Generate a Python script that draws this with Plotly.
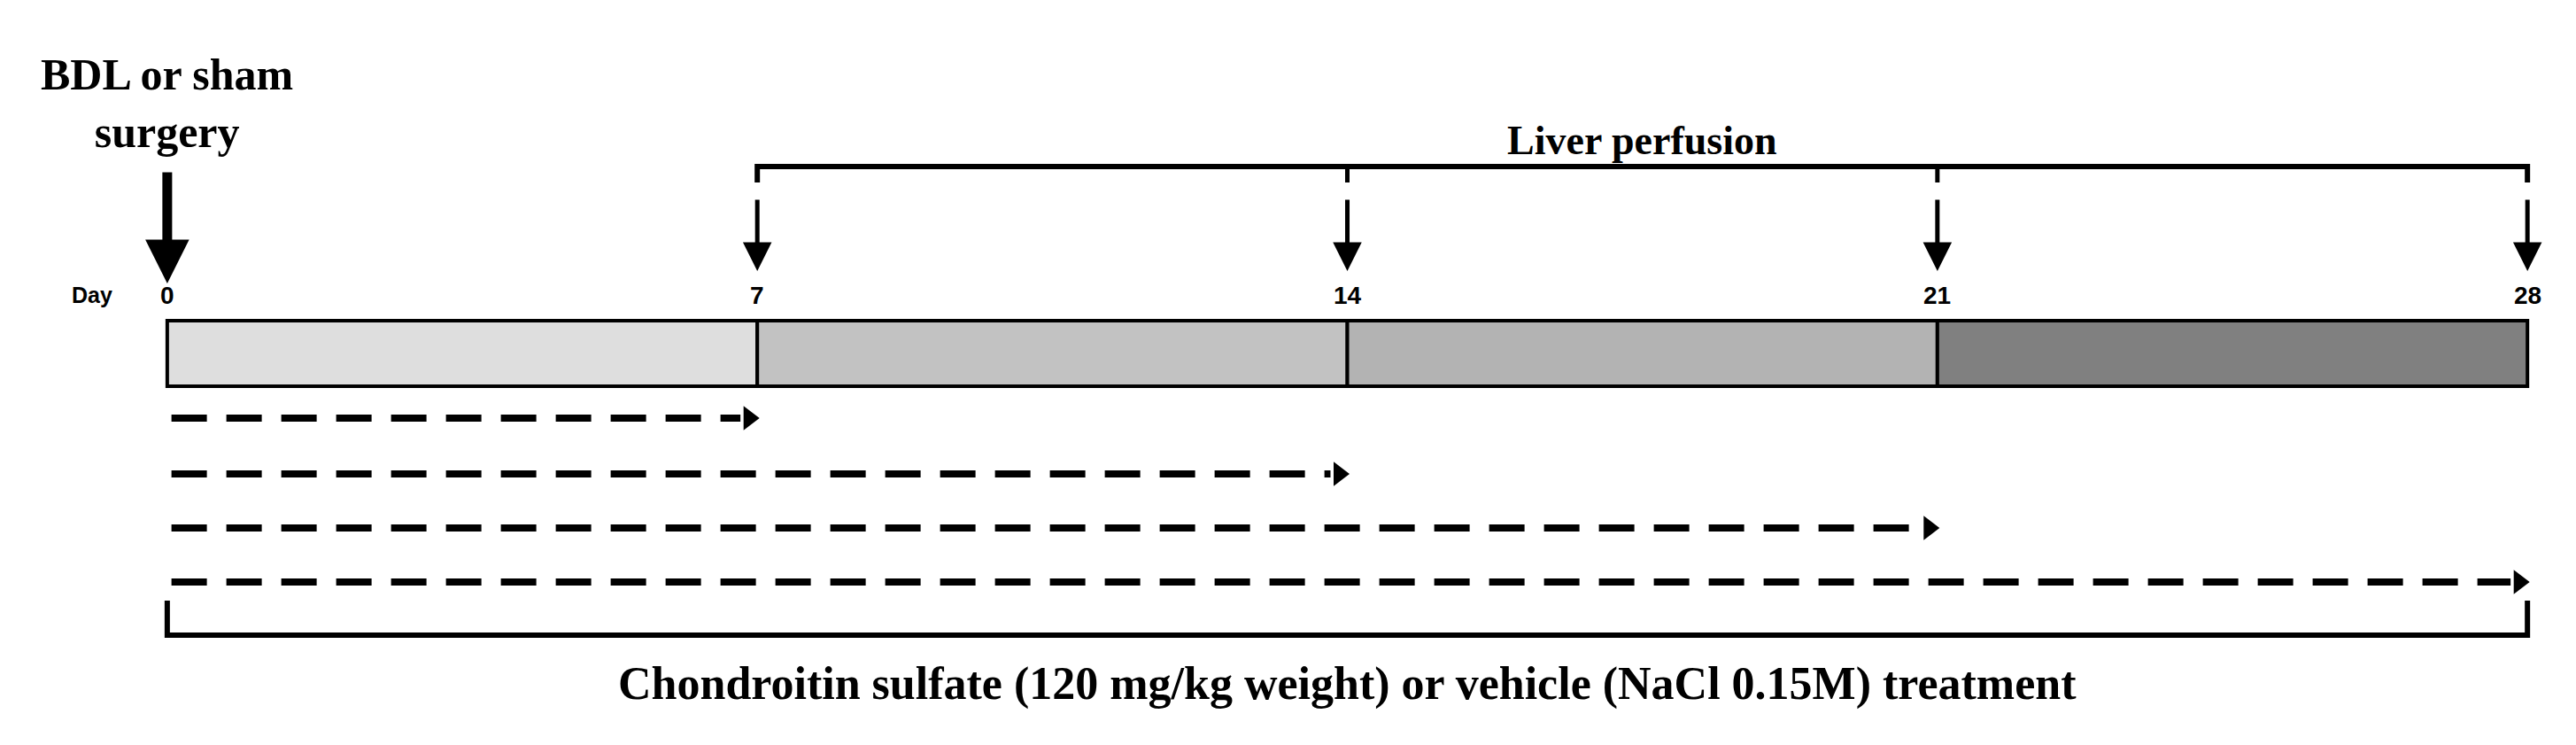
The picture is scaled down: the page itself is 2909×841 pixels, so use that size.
import plotly.graph_objects as go

days = [0, 7, 14, 21, 28]
day_labels = ["0", "7", "14", "21", "28"]
segment_colors = ["#dedede", "#c2c2c2", "#b3b3b3", "#808080"]
perfusion_days = [7, 14, 21, 28]
treatment_ends = [7, 14, 21, 28]
title_top = "BDL or sham<br>surgery"
title_perf = "Liver perfusion"
title_bottom = "Chondroitin sulfate (120 mg/kg weight) or vehicle (NaCl 0.15M) treatment"

# layout rows (vertical positions, pixel-like units)
BAR_TOP, BAR_BOT = 354, 428
DASH_ROWS = [464, 527, 588, 649]
BR_TOP, BR_TOP_END = 180, 198
BR_BOT, BR_BOT_END = 709, 670

fig = go.Figure()
serif = "Liberation Serif"

for i in range(4):
    fig.add_shape(type="rect", x0=days[i], x1=days[i + 1], y0=BAR_TOP, y1=BAR_BOT,
                  fillcolor=segment_colors[i], line=dict(color="black", width=4))

for d, lab in zip(days, day_labels):
    fig.add_annotation(x=d, y=325, text=f"<b>{lab}</b>", showarrow=False,
                       font=dict(family="Liberation Sans", size=28, color="black"))
fig.add_annotation(x=0, y=325, xshift=-85, text="<b>Day</b>", showarrow=False,
                   font=dict(family="Liberation Sans", size=25, color="black"))

# big surgery arrow
fig.add_annotation(x=0, y=312, ax=0, ay=185, xref="x", yref="y", axref="x", ayref="y",
                   text="", showarrow=True, arrowhead=2, arrowsize=0.9, arrowwidth=11,
                   arrowcolor="black")
fig.add_annotation(x=0, y=108, text=f"<b>{title_top}</b>", showarrow=False,
                   font=dict(family=serif, size=50, color="black"), align="center")

# perfusion arrows
for d in perfusion_days:
    fig.add_annotation(x=d, y=298, ax=d, ay=216, xref="x", yref="y", axref="x", ayref="y",
                       text="", showarrow=True, arrowhead=2, arrowsize=1.3, arrowwidth=5,
                       arrowcolor="black")

# top bracket
fig.add_trace(go.Scatter(x=[7, 7, 28, 28], y=[BR_TOP_END, BR_TOP, BR_TOP, BR_TOP_END],
                         mode="lines", line=dict(color="black", width=6), hoverinfo="skip"))
for d in [14, 21]:
    fig.add_trace(go.Scatter(x=[d, d], y=[BR_TOP, BR_TOP_END], mode="lines",
                             line=dict(color="black", width=5), hoverinfo="skip"))
fig.add_annotation(x=17.5, y=150, text=f"<b>{title_perf}</b>", showarrow=False,
                   font=dict(family=serif, size=46, color="black"))

# dashed treatment arrows
for yrow, end in zip(DASH_ROWS, treatment_ends):
    fig.add_trace(go.Scatter(x=[0.05, end - 0.2], y=[yrow, yrow], mode="lines",
                             line=dict(color="black", width=8, dash="40px,22px"),
                             hoverinfo="skip"))
    fig.add_trace(go.Scatter(x=[end - 0.1], y=[yrow], mode="markers",
                             marker=dict(symbol="triangle-right", size=24, color="black"),
                             hoverinfo="skip"))

# bottom bracket
fig.add_trace(go.Scatter(x=[0, 0, 28, 28], y=[BR_BOT_END, BR_BOT, BR_BOT, BR_BOT_END],
                         mode="lines", line=dict(color="black", width=6), hoverinfo="skip"))
fig.add_annotation(x=14, y=764, text=f"<b>{title_bottom}</b>", showarrow=False,
                   font=dict(family=serif, size=52, color="black"))

fig.update_layout(width=2909, height=841, margin=dict(l=0, r=0, t=0, b=0),
                  plot_bgcolor="white", paper_bgcolor="white", showlegend=False,
                  xaxis=dict(range=[-1.90, 28.66], visible=False),
                  yaxis=dict(range=[841, 0], visible=False))
fig.write_html("out.html")
